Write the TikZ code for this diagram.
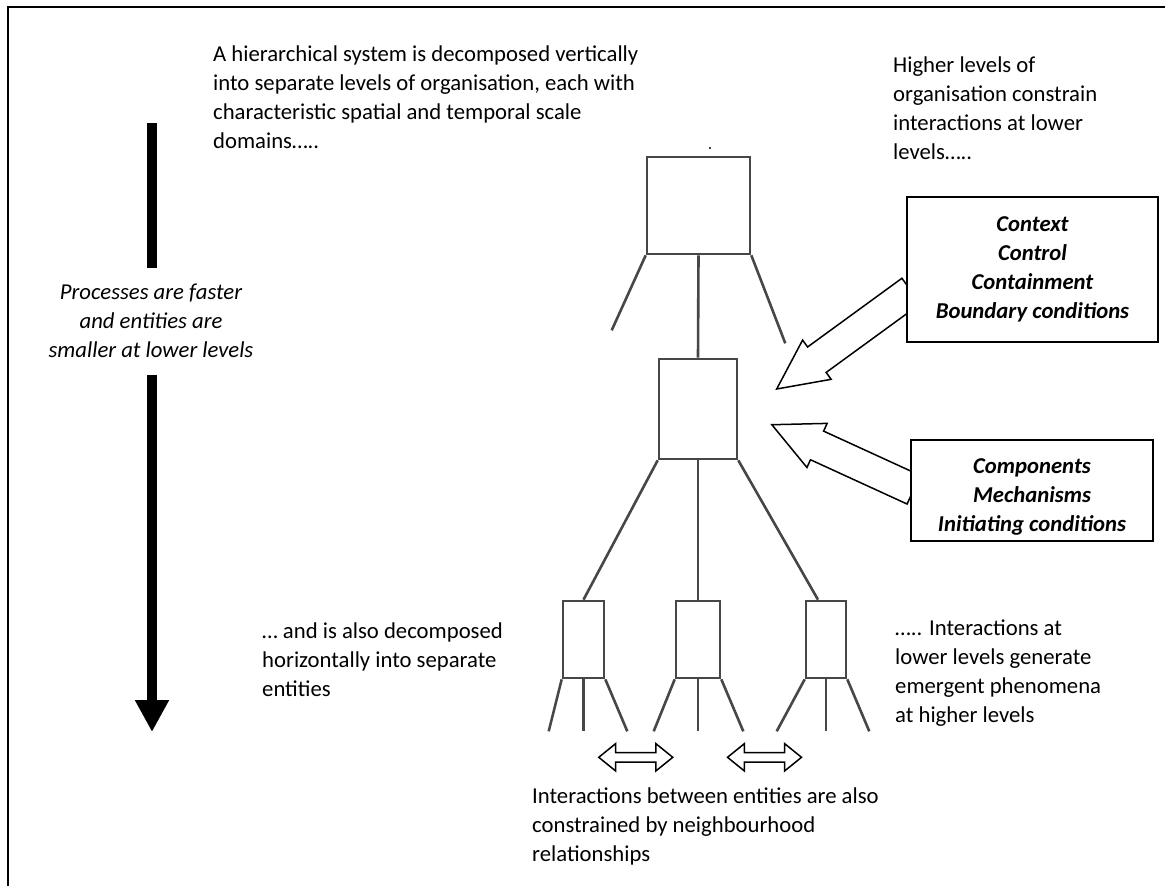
\documentclass[tikz,border=0pt]{standalone}
\usepackage{fontspec}
\setmainfont{Carlito}
\usetikzlibrary{arrows.meta,positioning,calc,shapes.arrows,backgrounds}

\begin{document}
\begin{tikzpicture}[x=1pt,y=-1pt,
  txt/.style={font=\fontsize{22.7}{28.8}\selectfont,align=left,inner sep=0pt,anchor=north west},
  lvl/.style={draw=black!72,line width=2.6pt,inner sep=0pt},
  leg/.style={draw=black!72,line width=2.6pt},
  cbox/.style={draw,line width=1.8pt,fill=white,align=center,inner sep=0pt,font=\fontsize{22.7}{29.2}\selectfont\bfseries\itshape},
  blk/.style={single arrow,draw,fill=white,line width=1.5pt,inner xsep=0pt,inner ysep=15pt,single arrow head extend=8.5pt,single arrow tip angle=52,anchor=tip},
  dbl/.style={double arrow,draw,fill=white,line width=1.5pt,inner xsep=0pt,inner ysep=4pt,double arrow head extend=9pt,double arrow tip angle=78,minimum height=74pt},
  bar/.style={line width=10pt}
]
\useasboundingbox (0,0) rectangle (1165,886);
\draw[line width=2pt] (8,886) -- (8,7) -- (1165,7);

\node[txt] (decomp) at (213,46) {A hierarchical system is decomposed vertically\\into separate levels of organisation, each with\\characteristic spatial and temporal scale\\domains…..};
\node[txt] (constrain) at (893,57) {Higher levels of\\organisation constrain\\interactions at lower\\levels…..};
\node[txt] (horiz) at (262,623) {… and is also decomposed\\horizontally into separate\\entities};
\node[txt] (emerg) at (895,620) {….. Interactions at\\lower levels generate\\emergent phenomena\\at higher levels};
\node[txt] (neigh) at (532,788) {Interactions between entities are also\\constrained by neighbourhood\\relationships};

% speed of levels
\node[txt,anchor=north,align=center,font=\fontsize{22.7}{28.8}\selectfont\itshape] (speed) at (151,284) {Processes are faster\\and entities are\\smaller at lower levels};
\coordinate (bartop) at (152,123);
\coordinate (barend) at (152,732);
\draw[bar] (bartop) -- ($(bartop |- speed.north)+(0,-16)$);
\draw[bar,-{Triangle[width=32pt,length=32pt]}] ($(speed.south -| bartop)+(0,17)$) -- (barend);

% levels
\fill (710,148) circle (1.2pt);
\node[lvl,minimum width=103pt,minimum height=97pt] (top) at (698.5,205.5) {};
\node[lvl,minimum width=78pt,minimum height=100pt] (mid) at (698,409) {};
\node[lvl,minimum width=41pt,minimum height=77pt] (b1) at (583.5,639.5) {};
\node[lvl,minimum width=44pt,minimum height=77pt] (b2) at (698,639.5) {};
\node[lvl,minimum width=40pt,minimum height=77pt] (b3) at (826,639.5) {};

\draw[leg] (top.south) -- (mid.north);
\draw[leg] (top.south west) -- ++(-34,75);
\draw[leg] (top.south east) -- ++(34,88);
\draw[leg] (mid.south west) -- (b1.north);
\draw[leg] (mid.south) -- (b2.north);
\draw[leg] (mid.south east) -- ([xshift=-8pt]b3.north);
\foreach \b/\l in {b1/-13,b2/-21,b3/-28}{
  \draw[leg] (\b.south west) -- ++(\l,52);
  \draw[leg] (\b.south) -- ++(0,52);
  \draw[leg] (\b.south east) -- ++(22,52);
}

\node[dbl] (nb1) at ($(b1.south)!0.5!(b2.south)+(-5,78)$) {};
\node[dbl] (nb2) at ($(b2.south)!0.5!(b3.south)+(2.5,78)$) {};

\node[cbox,minimum width=251pt,minimum height=145pt] (ctx) at (1032.5,269.5) {Context\\Control\\Containment\\Boundary conditions};
\node[cbox,minimum width=242pt,minimum height=101pt] (comp) at (1032,490.5) {\rule{0pt}{28pt}Components\\Mechanisms\\Initiating conditions};

\begin{pgfonlayer}{background}
\path let \p1=($(mid.east)+(37,-19)$), \p2=($(ctx.west)+(3.7,22.5)$), \p3=($(\p1)-(\p2)$),
  \n1={atan2(\y3,\x3)}, \n2={veclen(\x3,\y3)} in
  node[blk,rotate=\n1,minimum height=\n2] (upA) at (\p1) {};
\path let \p1=($(mid.east)+(32,15)$), \p2=($(comp.west)+(2,-1.5)$), \p3=($(\p1)-(\p2)$),
  \n1={atan2(\y3,\x3)}, \n2={veclen(\x3,\y3)} in
  node[blk,rotate=\n1,minimum height=\n2] (upB) at (\p1) {};
\end{pgfonlayer}
\end{tikzpicture}
\end{document}
